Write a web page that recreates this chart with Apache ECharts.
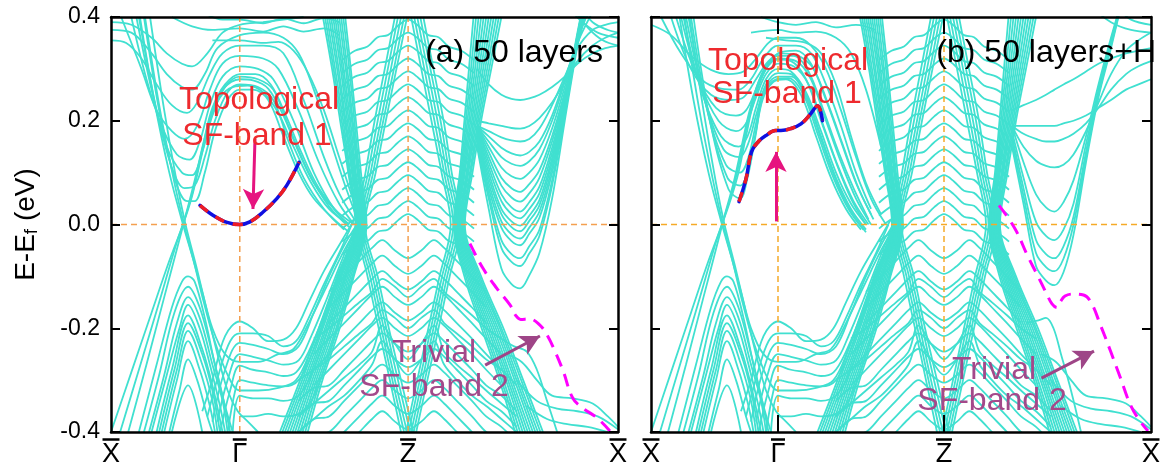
<!DOCTYPE html>
<html><head><meta charset="utf-8">
<script src="https://cdn.jsdelivr.net/npm/echarts@6/dist/echarts.min.js"></script>
<style>html,body{margin:0;padding:0;background:#fff}#c{width:1163px;height:468px}</style>
</head><body><div id="c"></div><script>
// ---------------- axis / label data ----------------
const kLabelValues = [0, 25.4, 58.6, 100];
const kLabelTexts = ['{bx| }\n{t|X}', '{bg| }\n{t|\u0393}', '{bz| }\n{t|Z}', '{bx| }\n{t|X}'];
const kSymLines = [25.4, 58.6];
const eRange = [-0.4, 0.4];

// ---------------- bands: left conduction (panel a) ----------------
const uA = [
 [[0,0.39],[4,0.385],[8,0.36],[11,0.33],[14,0.31],[16,0.305],[19,0.33],[22,0.37],[25.4,0.385],[30,0.39],[34,0.395],[38,0.4]],
 [[0,0.375],[4,0.37],[8,0.33],[11,0.29],[14,0.265],[16,0.26],[18.5,0.29],[21,0.34],[25.4,0.365],[30,0.37],[34,0.36],[37,0.33],[40,0.26],[43,0.17],[46,0.08],[49,0.0]],
 [[0,0.355],[3,0.35],[6,0.32],[9,0.27],[12,0.23],[15,0.215],[17,0.235],[19.5,0.29],[22,0.33],[25.4,0.345],[30,0.345],[34,0.33],[38,0.24],[42,0.13],[45,0.06],[48,0.01]],
 [[2,0.4],[6,0.3],[9,0.22],[12,0.18],[14.5,0.165],[17,0.19],[19.5,0.26],[22,0.31],[25.4,0.325],[30,0.32],[33,0.3],[37,0.22],[41,0.12],[45,0.04],[48,0.0]],
 [[4,0.4],[7,0.28],[10,0.19],[13,0.135],[15.5,0.125],[17.5,0.16],[19.5,0.23],[22,0.285],[25.4,0.305],[29,0.3],[32,0.28],[36,0.2],[40,0.1],[44,0.03],[47,0.0]],
 [[5,0.4],[8,0.26],[11,0.15],[14,0.1],[16,0.095],[18,0.14],[20,0.21],[22.5,0.265],[25.4,0.285],[29,0.28],[32,0.26],[35,0.19],[39,0.1],[43,0.035],[47,-0.005]],
 [[5.5,0.4],[9,0.22],[12,0.11],[14.5,0.07],[16.5,0.075],[18.5,0.13],[20.5,0.2],[23,0.255],[25.4,0.27],[29,0.265],[32,0.24],[35,0.16],[38,0.09],[42,0.03],[46,-0.01]],
 [[6.5,0.4],[9.5,0.22],[12.5,0.09],[15,0.045],[16.5,0.045],[18.5,0.1],[20.5,0.18],[23,0.24],[25.4,0.26],[28,0.26],[31,0.24],[34,0.17],[37,0.1],[40,0.05],[44,0.01],[47,-0.015]]
];
const cA = [
 [[0,-0.4],[4,-0.285],[8,-0.17],[11.5,-0.07],[14.2,0.0],[16,0.055],[17.8,0.13],[19.5,0.2],[21.5,0.245],[24,0.265],[27,0.268],[30,0.255],[33,0.215],[36,0.15],[39.5,0.08],[43,0.03],[47,0.0]],
 [[1.8,-0.4],[5.5,-0.28],[9.5,-0.15],[12.8,-0.04],[14.5,0.01],[16.3,0.07],[18,0.145],[19.8,0.215],[22,0.26],[25.4,0.28],[28,0.278],[31,0.262],[34,0.21],[37,0.14],[40,0.08],[44,0.03],[48,0.0]],
 [[3.4,-0.4],[7,-0.27],[10.5,-0.14],[13.2,-0.04],[14.8,0.02],[16.5,0.085],[18.3,0.16],[20,0.225],[22.5,0.27],[25.4,0.29],[28.5,0.29],[31.5,0.27],[34.5,0.21],[37.5,0.14],[41,0.07],[45,0.02]]
];
const tmA = [
 [[12,0.4],[16,0.382],[20,0.375],[25.4,0.378],[30,0.372],[34,0.382],[38,0.372],[42,0.378],[45,0.365]],
 [[18,0.41],[22,0.395],[25.4,0.395],[30,0.388],[34,0.397],[38,0.388],[42,0.398],[45,0.39]],
 [[20,0.355],[25.4,0.355],[30,0.35],[33,0.352],[36,0.335],[39,0.29],[42,0.22],[45,0.13],[48,0.04]]
];
// ---------------- bands: left conduction (panel b) ----------------
const uB = [
 [[0,0.385],[4,0.365],[8,0.325],[12,0.298],[15.5,0.29],[18.5,0.295],[21,0.32],[23.5,0.35],[25.4,0.36],[29,0.36],[32,0.345],[35,0.3],[38,0.22],[41,0.13],[44,0.05],[47,0.0]],
 [[2,0.4],[6,0.33],[10,0.28],[14,0.262],[17.5,0.26],[20,0.28],[22.5,0.32],[25.4,0.345],[29,0.345],[32,0.33],[35,0.27],[38,0.19],[41,0.1],[44,0.03]],
 [[4,0.4],[8,0.3],[12,0.25],[16,0.24],[18.5,0.245],[21,0.28],[23.5,0.315],[26,0.33],[29.5,0.325],[32.5,0.3],[35.5,0.23],[38.5,0.15],[41.5,0.07],[44.5,0.01]],
 [[5,0.4],[9,0.29],[13,0.225],[17,0.21],[19,0.22],[21,0.26],[23,0.3],[25.4,0.32],[29,0.315],[32,0.28],[35,0.2],[38,0.12],[41,0.05],[44,0.0]],
 [[6,0.4],[9.5,0.28],[13.5,0.2],[17,0.18],[19,0.195],[21,0.245],[23,0.29],[25.4,0.31],[28.5,0.305],[31.5,0.27],[34.5,0.19],[37.5,0.11],[40.5,0.045],[43.5,0.0]],
 [[6.5,0.4],[10,0.26],[14,0.17],[17.5,0.15],[19.3,0.17],[21,0.225],[23,0.28],[25.4,0.3],[28,0.295],[31,0.255],[34,0.18],[37,0.1],[40,0.04],[43,0.0]],
 [[7,0.4],[10.5,0.25],[14.5,0.145],[17.7,0.13],[19.4,0.155],[21,0.21],[23,0.27],[25.4,0.292],[28,0.29],[31,0.25],[34,0.17],[37,0.09],[40,0.03],[43,-0.01]],
 [[7.5,0.4],[11,0.23],[15,0.115],[17.8,0.1],[19.5,0.13],[21,0.195],[22.7,0.26],[25.4,0.285],[28,0.285],[31,0.245],[34,0.165],[37,0.085],[40,0.025],[43,-0.015]],
 [[8,0.4],[11.5,0.21],[15.3,0.09],[17.9,0.075],[19.5,0.11],[21,0.18],[22.5,0.25],[25,0.28],[27.5,0.282],[30.5,0.25],[33.5,0.17],[36.5,0.09],[39.5,0.03],[42.5,-0.01]],
 [[8.5,0.4],[12,0.19],[15.5,0.068],[17.8,0.05],[19.3,0.09],[20.8,0.165],[22.3,0.24],[24.5,0.275],[27,0.28],[30,0.25],[33,0.17],[36,0.09],[39,0.03],[42,-0.01]]
];
const cB = [
 [[0,-0.4],[4,-0.285],[8,-0.17],[11.5,-0.07],[14.2,0.0],[16,0.05],[17.5,0.1],[19,0.17],[20.5,0.235],[22.5,0.29],[25.4,0.33],[29,0.335],[32,0.31],[35,0.24],[38,0.16],[41,0.08],[44,0.02]],
 [[1.8,-0.4],[5.5,-0.28],[9.5,-0.15],[12.8,-0.04],[14.5,0.01],[16.3,0.065],[17.8,0.125],[19.3,0.195],[21,0.26],[23,0.305],[25.4,0.325],[28.5,0.325],[31.5,0.295],[34.5,0.22],[37.5,0.14],[40.5,0.07],[43.5,0.01]],
 [[3.4,-0.4],[7,-0.27],[10.5,-0.14],[13.2,-0.04],[14.8,0.02],[16.5,0.08],[18,0.145],[19.6,0.215],[21.5,0.275],[23.5,0.31],[25.4,0.318],[28,0.315],[31,0.28],[34,0.2],[37,0.12],[40,0.05],[43,0.0]]
];
const tmB = [
 [[22,0.4],[25.4,0.39],[29,0.385],[33,0.39],[37,0.38],[41,0.385],[45,0.375]],
 [[20,0.37],[25.4,0.375],[29,0.37],[33,0.372],[37,0.36],[40,0.33],[43,0.26],[46,0.15]],
 [[23,0.36],[27,0.355],[31,0.35],[34,0.33],[37,0.27],[40,0.17],[43,0.08],[46,0.02]]
];
// ---------------- bands shared by both panels ----------------
const dLines = [
 [[5.7,0.4],[8.5,0.24],[11.5,0.1],[14.2,0.0],[16,-0.06],[18,-0.13],[20,-0.2],[22.5,-0.25],[25.4,-0.265],[29,-0.265],[33,-0.25],[36,-0.24],[39,-0.19],[42.5,-0.12],[46,-0.05],[49,0.0]],
 [[6.7,0.4],[9.5,0.23],[12.3,0.09],[14.4,0.0],[16.3,-0.07],[18.3,-0.15],[20.3,-0.22],[23,-0.29],[25.4,-0.32],[29,-0.32],[33,-0.315],[36.5,-0.3],[39.5,-0.24],[43,-0.15],[46.5,-0.06],[49.5,0.0]],
 [[7.7,0.4],[10.5,0.22],[13,0.08],[14.7,0.0],[16.8,-0.08],[19,-0.17],[21,-0.25],[23,-0.32],[25,-0.36],[27,-0.38],[29,-0.4]]
];
const humps = [
 [[5.5,-0.4],[9,-0.27],[12,-0.16],[14,-0.11],[15.2,-0.1],[16.5,-0.11],[18.5,-0.18],[20.5,-0.27],[22.5,-0.35],[24,-0.4]],
 [[6.5,-0.4],[9.5,-0.29],[12.5,-0.17],[15.2,-0.12],[17.5,-0.16],[20,-0.25],[22,-0.33],[23.5,-0.4]],
 [[7.5,-0.4],[10.5,-0.29],[13,-0.19],[15.2,-0.14],[17.5,-0.18],[20,-0.27],[22,-0.34],[23,-0.4]],
 [[8,-0.4],[11,-0.29],[13.5,-0.2],[15.2,-0.155],[17.5,-0.2],[19.5,-0.27],[21.5,-0.35],[22.5,-0.4]],
 [[9,-0.4],[12,-0.28],[15.2,-0.175],[18,-0.24],[20,-0.31],[22,-0.4]],
 [[9.5,-0.4],[12.5,-0.28],[15.2,-0.19],[18,-0.25],[20,-0.32],[21.5,-0.4]],
 [[10,-0.4],[13,-0.28],[15.2,-0.205],[18,-0.27],[20,-0.34],[21,-0.4]],
 [[10.5,-0.4],[13,-0.3],[15.2,-0.225],[17.5,-0.28],[19.5,-0.35],[20.5,-0.4]],
 [[11.5,-0.4],[13.5,-0.32],[15.2,-0.26],[17,-0.3],[19,-0.37],[20,-0.4]],
 [[12,-0.4],[15.2,-0.31],[18,-0.4]]
];
const gammaVal = [
 [[18,-0.36],[20,-0.3],[22.5,-0.215],[25.4,-0.187],[28,-0.2],[31,-0.225],[34,-0.222],[36.5,-0.2],[39,-0.15],[42,-0.09],[45,-0.04],[48,0.01]],
 [[19,-0.37],[21.5,-0.28],[23.5,-0.225],[25.4,-0.21],[28,-0.21],[31,-0.215],[34,-0.235],[36.5,-0.225],[39,-0.18],[42,-0.115],[45,-0.055],[47.5,0.0]],
 [[20,-0.38],[22.5,-0.28],[25.4,-0.228],[28,-0.232],[31,-0.24],[34,-0.25],[37,-0.235],[40,-0.17],[43,-0.1],[46,-0.04],[48.5,0.0]],
 [[21,-0.38],[23,-0.3],[25.4,-0.25],[28,-0.255],[31,-0.262],[34,-0.27],[37,-0.262],[39.5,-0.215],[42.5,-0.145],[45.5,-0.07],[48.5,0.0]],
 [[21.5,-0.4],[23.5,-0.32],[25.4,-0.272],[28,-0.28],[31,-0.285],[34,-0.292],[36.5,-0.285],[39,-0.245],[42,-0.175],[45,-0.095],[48,-0.015]],
 [[23,-0.4],[24.5,-0.32],[25.4,-0.3],[28,-0.305],[31,-0.31],[34,-0.312],[37,-0.3],[40,-0.24],[43,-0.16],[46,-0.08],[49,0.0]],
 [[24,-0.4],[25.4,-0.33],[28,-0.335],[31,-0.335],[34,-0.34],[37,-0.33],[39.5,-0.29],[42.5,-0.21],[45.5,-0.12],[48.5,-0.03]],
 [[25.4,-0.37],[28,-0.37],[31,-0.365],[34,-0.37],[37,-0.365],[39.5,-0.34],[42,-0.28],[45,-0.19],[48,-0.09],[50.5,0.0]]
];
// bundles around Z: k position of each line at these energies
const bundleE = [0.4, 0.3, 0.2, 0.1, 0.0, -0.1, -0.2, -0.3, -0.4];
const outerLeftK = [
 [41.8,43.6,45.2,46.8,48.2,44.6,41,37.3,33.3],
 [42.2,43.9,45.5,47,48.4,44.9,41.4,37.7,33.8],
 [42.6,44.2,45.8,47.2,48.6,45.2,41.8,38.1,34.3],
 [43,44.6,46.1,47.5,48.8,45.5,42.2,38.5,34.8],
 [43.4,44.9,46.3,47.7,49,45.8,42.5,38.9,35.3],
 [43.8,45.3,46.6,47.9,49.2,46.1,42.9,39.3,35.8],
 [44.2,45.6,46.9,48.1,49.4,46.4,43.3,39.7,36.3],
 [44.6,45.9,47.2,48.3,49.6,46.7,43.6,40.1,36.8],
 [45,46.3,47.5,48.6,49.8,47,44,40.5,37.3],
 [45.4,46.6,47.7,48.8,50,47.3,44.4,40.9,37.8],
 [45.8,47,48,49,50.2,47.6,44.7,41.3,38.3],
 [46.2,47.3,48.3,49.3,50.4,47.9,45.1,41.7,38.8]
];
const innerLeftK = [
 [56,54,52,50.2,48.5,50.6,52.8,55,57.2],
 [56.6,54.6,52.6,50.7,48.9,51.1,53.3,55.5,57.8],
 [57.2,55.2,53.2,51.2,49.3,51.6,53.8,56,58.4],
 [57.8,55.8,53.7,51.7,49.7,52.1,54.3,56.6,59],
 [58.4,56.3,54.2,52.2,50.1,52.6,54.8,57.2,59.6]
];
const outerRightK = [
 [71.5,70.6,69.7,68.8,67.6,69.7,73.1,76.6,79.7],
 [72,71,70,69,67.8,70,73.5,77,80.2],
 [72.5,71.4,70.3,69.2,68,70.3,73.9,77.4,80.7],
 [73,71.8,70.6,69.4,68.2,70.6,74.3,77.9,81.2],
 [73.5,72.2,70.9,69.6,68.4,70.9,74.7,78.3,81.7],
 [74,72.6,71.2,69.8,68.6,71.2,75.1,78.7,82.2],
 [74.5,73,71.5,70.1,68.8,71.5,75.5,79.1,82.7],
 [75,73.4,71.8,70.3,69,71.8,75.9,79.6,83.2],
 [75.5,73.8,72.1,70.5,69.2,72.1,76.3,80,83.7],
 [76,74.2,72.4,70.8,69.4,72.4,76.7,80.4,84.2],
 [76.5,74.6,72.7,71,69.6,72.7,77,80.9,84.7],
 [77,75,73,71.3,69.8,73,77.4,81.3,85.2]
];
const innerRightK = [
 [59.2,61.2,63.2,65.2,67,64.8,62.6,60.4,58.2],
 [59.8,61.8,63.8,65.7,67.5,65.3,63.1,60.9,58.7],
 [60.4,62.4,64.4,66.2,68,65.8,63.6,61.4,59.2],
 [61,63,65,66.7,68.5,66.3,64.1,61.9,59.7],
 [61.6,63.6,65.6,67.2,69,66.8,64.6,62.4,60.2]
];
// wavy bands around Z (upper), on a shared k grid
const zuK = [45.6,48.1,50.6,52.6,54.6,56.6,58.6,60.6,62.6,64.6,66.6,69.1,71.6];
const zuE = [
 [0.317,0.335,0.343,0.361,0.365,0.383,0.395,0.383,0.365,0.361,0.343,0.335,0.317],
 [0.292,0.31,0.318,0.336,0.34,0.358,0.37,0.358,0.34,0.336,0.318,0.31,0.292],
 [0.267,0.285,0.293,0.311,0.315,0.333,0.345,0.333,0.315,0.311,0.293,0.285,0.267],
 [0.242,0.26,0.268,0.286,0.29,0.308,0.32,0.308,0.29,0.286,0.268,0.26,0.242],
 [0.217,0.235,0.243,0.261,0.265,0.283,0.295,0.283,0.265,0.261,0.243,0.235,0.217],
 [0.192,0.21,0.218,0.236,0.24,0.258,0.27,0.258,0.24,0.236,0.218,0.21,0.192],
 [0.167,0.185,0.193,0.211,0.215,0.233,0.245,0.233,0.215,0.211,0.193,0.185,0.167],
 [0.142,0.16,0.168,0.186,0.19,0.208,0.22,0.208,0.19,0.186,0.168,0.16,0.142],
 [0.117,0.135,0.143,0.161,0.165,0.183,0.195,0.183,0.165,0.161,0.143,0.135,0.117],
 [0.092,0.11,0.118,0.136,0.14,0.158,0.17,0.158,0.14,0.136,0.118,0.11,0.092],
 [0.067,0.085,0.093,0.111,0.115,0.133,0.145,0.133,0.115,0.111,0.093,0.085,0.067],
 [0.042,0.06,0.068,0.086,0.09,0.108,0.12,0.108,0.09,0.086,0.068,0.06,0.042],
 [0.017,0.035,0.043,0.061,0.065,0.083,0.095,0.083,0.065,0.061,0.043,0.035,0.017],
 [-0.008,0.01,0.018,0.036,0.04,0.058,0.07,0.058,0.04,0.036,0.018,0.01,-0.008],
 [-0.033,-0.015,-0.007,0.011,0.015,0.033,0.045,0.033,0.015,0.011,-0.007,-0.015,-0.033],
 [-0.058,-0.04,-0.032,-0.014,-0.01,0.008,0.02,0.008,-0.01,-0.014,-0.032,-0.04,-0.058]
];
// wavy bands around Z (lower); null = band not present at that k
const zlK = [37,40,43,46,49,51.5,53.5,56,58.6,61.2,63.7,65.7,68.2,71.2,74,77,80];
const zlE = [
 [null,null,-0.13,-0.1,-0.07,-0.045,-0.03,-0.05,-0.065,-0.05,-0.03,-0.045,-0.07,-0.1,-0.13,null,null],
 [null,null,-0.16,-0.13,-0.1,-0.075,-0.06,-0.08,-0.095,-0.08,-0.06,-0.075,-0.1,-0.13,-0.16,null,null],
 [null,null,-0.19,-0.16,-0.13,-0.105,-0.09,-0.11,-0.125,-0.11,-0.09,-0.105,-0.13,-0.16,-0.19,null,null],
 [null,-0.25,-0.22,-0.19,-0.16,-0.135,-0.12,-0.14,-0.155,-0.14,-0.12,-0.135,-0.16,-0.19,-0.22,-0.25,null],
 [null,-0.28,-0.25,-0.22,-0.19,-0.165,-0.15,-0.17,-0.185,-0.17,-0.15,-0.165,-0.19,-0.22,-0.25,-0.28,null],
 [null,-0.31,-0.28,-0.25,-0.22,-0.195,-0.18,-0.2,-0.215,-0.2,-0.18,-0.195,-0.22,-0.25,-0.28,-0.31,null],
 [-0.34,-0.315,-0.31,-0.28,-0.25,-0.225,-0.21,-0.23,-0.245,-0.23,-0.21,-0.225,-0.25,-0.28,-0.31,-0.33,-0.36],
 [-0.37,-0.345,-0.34,-0.31,-0.28,-0.255,-0.24,-0.26,-0.275,-0.26,-0.24,-0.255,-0.28,-0.31,-0.34,-0.36,-0.39],
 [-0.4,-0.375,-0.37,-0.34,-0.31,-0.285,-0.27,-0.29,-0.305,-0.29,-0.27,-0.285,-0.31,-0.34,-0.37,-0.39,-0.42],
 [-0.43,-0.405,-0.4,-0.37,-0.34,-0.315,-0.3,-0.32,-0.335,-0.32,-0.3,-0.315,-0.34,-0.37,-0.4,-0.42,-0.45],
 [null,null,-0.43,-0.4,-0.37,-0.345,-0.33,-0.35,-0.365,-0.35,-0.33,-0.345,-0.37,-0.4,-0.43,null,null],
 [null,null,-0.46,-0.43,-0.4,-0.375,-0.36,-0.38,-0.395,-0.38,-0.36,-0.375,-0.4,-0.43,-0.46,null,null],
 [null,-0.22,-0.2,-0.175,-0.15,-0.13,-0.105,-0.12,-0.14,-0.12,-0.105,-0.13,-0.15,-0.175,-0.2,-0.22,null],
 [-0.3,-0.28,-0.26,-0.235,-0.21,-0.19,-0.165,-0.18,-0.2,-0.18,-0.165,-0.19,-0.21,-0.235,-0.26,-0.28,-0.31],
 [-0.37,-0.345,-0.32,-0.295,-0.27,-0.245,-0.195,-0.23,-0.26,-0.23,-0.195,-0.245,-0.27,-0.295,-0.32,-0.345,-0.37],
 [-0.4,-0.375,-0.35,-0.33,-0.3,-0.27,-0.225,-0.26,-0.29,-0.26,-0.225,-0.27,-0.3,-0.33,-0.35,-0.375,-0.4]
];
// right V (conduction) on a shared k grid
const rK = [72.2,74.5,77,79,80.7,82.5,84.5,87,89.5,92,95,97.5,100];
const rvA = [
 [0.3,0.27,0.25,0.242,0.24,0.243,0.25,0.265,0.285,0.31,0.33,0.34,0.345],
 [0.2,0.195,0.19,0.186,0.185,0.19,0.205,0.235,0.275,0.315,0.345,0.36,0.37],
 [0.19,0.18,0.168,0.162,0.16,0.165,0.185,0.23,0.285,0.34,0.375,0.385,0.39],
 [0.19,0.17,0.148,0.137,0.133,0.14,0.16,0.21,0.28,0.35,0.41,0.45,0.48],
 [0.19,0.16,0.13,0.117,0.113,0.122,0.145,0.2,0.275,0.355,0.43,0.48,0.52],
 [0.19,0.15,0.11,0.093,0.088,0.1,0.125,0.185,0.265,0.35,0.45,0.5,0.55],
 [0.19,0.14,0.09,0.07,0.063,0.078,0.105,0.17,0.255,0.345,0.46,0.52,0.6],
 [0.19,0.13,0.075,0.052,0.044,0.06,0.09,0.16,0.25,0.35,0.47,0.55,0.6],
 [0.19,0.12,0.058,0.033,0.025,0.043,0.073,0.148,0.245,0.355,0.48,0.55,0.6],
 [0.185,0.11,0.045,0.02,0.012,0.03,0.06,0.138,0.24,0.36,0.49,0.55,0.6],
 [0.18,0.1,0.03,0.006,-0.002,0.017,0.047,0.128,0.235,0.365,0.5,0.55,0.6],
 [0.175,0.09,0.02,-0.005,-0.013,0.007,0.037,0.12,0.23,0.37,0.5,0.55,0.6],
 [0.17,0.08,0.006,-0.019,-0.027,-0.006,0.025,0.11,0.225,0.365,0.5,0.55,0.6],
 [0.165,0.07,-0.006,-0.032,-0.04,-0.018,0.013,0.1,0.22,0.36,0.5,0.55,0.6],
 [0.16,0.06,-0.03,-0.057,-0.065,-0.042,-0.01,0.085,0.215,0.355,0.5,0.55,0.6],
 [0.155,0.05,-0.045,-0.072,-0.08,-0.056,-0.022,0.075,0.21,0.35,0.5,0.55,0.6],
 [0.15,0.03,-0.085,-0.115,-0.123,-0.098,-0.055,0.05,0.2,0.345,0.5,0.55,0.6]
];
const rvB = [
 [0.22,0.23,0.24,0.25,0.26,0.27,0.28,0.295,0.31,0.32,0.33,0.335,0.34],
 [0.19,0.19,0.19,0.19,0.19,0.195,0.2,0.21,0.225,0.24,0.26,0.27,0.28],
 [0.19,0.175,0.165,0.16,0.16,0.165,0.175,0.195,0.225,0.26,0.29,0.305,0.315],
 [0.19,0.15,0.123,0.113,0.11,0.115,0.135,0.18,0.235,0.29,0.335,0.355,0.37],
 [0.19,0.12,0.058,0.033,0.025,0.043,0.085,0.17,0.27,0.36,0.46,0.55,0.6],
 [0.18,0.09,0.005,-0.022,-0.03,-0.01,0.04,0.155,0.26,0.355,0.46,0.55,0.6],
 [0.17,0.07,-0.03,-0.057,-0.065,-0.042,0.015,0.14,0.255,0.35,0.46,0.55,0.6],
 [0.16,0.055,-0.055,-0.082,-0.09,-0.066,0,0.13,0.25,0.345,0.46,0.55,0.6],
 [0.15,0.04,-0.08,-0.108,-0.117,-0.092,-0.02,0.12,0.245,0.34,0.46,0.55,0.6]
];
const rtA = [
 [[90,0.42],[93,0.39],[96,0.37],[100,0.36]],
 [[91,0.42],[94,0.38],[97,0.355],[100,0.345]],
 [[92.5,0.42],[95,0.39],[98,0.375],[100,0.37]]
];
const rtB = [
 [[88,0.42],[92,0.39],[96,0.375],[100,0.37]],
 [[93,0.42],[96,0.395],[100,0.385]]
];
const bottomRight = [
 [[78,-0.25],[81,-0.265],[84,-0.3],[87,-0.33],[91,-0.335],[95,-0.345],[98,-0.37],[100,-0.39]],
 [[80,-0.3],[84,-0.34],[88,-0.355],[92,-0.36],[96,-0.37],[100,-0.395]],
 [[82,-0.35],[86,-0.375],[90,-0.385],[94,-0.39],[98,-0.4]]
];
const humpRA = [[[77,-0.22],[79.5,-0.235],[82,-0.245],[84,-0.28],[86,-0.34],[88,-0.4]]];
const humpRB = [[[75,-0.19],[77.5,-0.185],[79,-0.18],[80.5,-0.2],[82,-0.25],[84,-0.32],[86,-0.4]]];

// ---------------- highlighted surface bands ----------------
const topoA = [[17.55,0.037],[20.1,0.018],[22.9,0.004],[25.4,0.0],[27.4,0.005],[30,0.024],[32.7,0.05],[34.7,0.076],[37.1,0.12]];
const topoB = [[17.6,0.044],[19,0.088],[20.1,0.14],[21.5,0.16],[22.9,0.171],[24.9,0.181],[26,0.181],[28,0.185],[30,0.194],[31.9,0.213],[33.3,0.229],[34.3,0.2]];
const trivA = [[70.8,-0.037],[73.4,-0.085],[76.1,-0.123],[78.7,-0.155],[79.8,-0.175],[80.8,-0.183],[82.5,-0.182],[84.6,-0.194],[86,-0.213],[87.6,-0.245],[89.2,-0.283],[91.1,-0.335],[93.1,-0.354],[95.9,-0.373],[98.4,-0.398]];
const trivB = [[69.6,0.037],[72.8,-0.008],[75.3,-0.06],[77.3,-0.098],[79.1,-0.133],[80.2,-0.153],[81.2,-0.16],[81.8,-0.15],[82.8,-0.138],[84.5,-0.134],[86.5,-0.136],[88,-0.15],[89.9,-0.194],[91.9,-0.244],[93.9,-0.296],[95.9,-0.348],[97.8,-0.379],[99.4,-0.398]];
const arrowTopoA = [[28.4,0.165],[28.0,0.03]];
const arrowTopoB = [[25.0,0.006],[25.0,0.14]];
const arrowTrivA = [[73.8,-0.271],[84.6,-0.215]];
const arrowTrivB = [[78.1,-0.296],[88.6,-0.244]];

// ---------------- styles ----------------
const TURQ = '#40E0D0';
const FONT = '"Liberation Sans", Arial, sans-serif';
const ORANGE_A = '#f4a050', ORANGE_B = '#f5aa28';

function onGrid(kGrid, rows){ return rows.map(r => r.map((e,i) => [kGrid[i], e])); }
function onEGrid(eGrid, rows){ return rows.map(r => r.map((k,i) => [k, eGrid[i]])); }
function bandSeries(list, xi, yi){
  return list.map(b => ({type:'line', xAxisIndex:xi, yAxisIndex:yi, data:b, smooth:0.35, symbol:'none',
    connectNulls:false, silent:true, animation:false, z:2, lineStyle:{color:TURQ, width:1.8}}));
}
const shared = [].concat(dLines, humps, gammaVal,
  onEGrid(bundleE, outerLeftK), onEGrid(bundleE, innerLeftK), onEGrid(bundleE, outerRightK), onEGrid(bundleE, innerRightK),
  onGrid(zuK, zuE), onGrid(zlK, zlE), bottomRight);
const bandsA = [].concat(uA, cA, tmA, shared, onGrid(rK, rvA), rtA, humpRA);
const bandsB = [].concat(uB, cB, tmB, shared, onGrid(rK, rvB), rtB, humpRB);

function refLines(xi, yi, color){
  const st = {color, width:1.5, type:[6,4]};
  const out = [{type:'line', xAxisIndex:xi, yAxisIndex:yi, data:[[0,0],[100,0]], symbol:'none', silent:true, animation:false, z:3, lineStyle:st}];
  kSymLines.forEach(k => out.push({type:'line', xAxisIndex:xi, yAxisIndex:yi, data:[[k,eRange[0]],[k,eRange[1]]], symbol:'none', silent:true, animation:false, z:3, lineStyle:st}));
  return out;
}
function topoSeries(data, xi, yi){
  return [
    {type:'line', xAxisIndex:xi, yAxisIndex:yi, data, smooth:0.4, symbol:'none', silent:true, animation:false, z:4, lineStyle:{color:'#1010e0', width:3.5, cap:'round'}},
    {type:'line', xAxisIndex:xi, yAxisIndex:yi, data, smooth:0.4, symbol:'none', silent:true, animation:false, z:5, lineStyle:{color:'#ee1c24', width:3.5, type:[10,9]}}
  ];
}
function trivSeries(data, xi, yi){
  return {type:'line', xAxisIndex:xi, yAxisIndex:yi, data, smooth:0.4, symbol:'none', silent:true, animation:false, z:4, lineStyle:{color:'#ff00ff', width:3, type:[13,8]}};
}
function arrowSeries(pts, xi, yi, color){
  return {type:'line', xAxisIndex:xi, yAxisIndex:yi, data:[], silent:true, animation:false, z:6,
    markLine:{silent:true, animation:false, symbol:['none','arrow'], symbolSize:[16,20], label:{show:false},
      emphasis:{disabled:true}, lineStyle:{color, width:3, type:'solid'},
      data:[[{coord:pts[0]},{coord:pts[1]}]]}};
}

const axLine = {show:true, onZero:false, lineStyle:{color:'#000', width:2.5}};
const barStyle = (w) => ({width:w, height:2.5, lineHeight:3, fontSize:1, backgroundColor:'#000'});
function xAx(grid, pos, labels, ticks){
  return {type:'value', gridIndex:grid, position:pos, min:0, max:100, z:10,
    axisLine:axLine, splitLine:{show:false},
    axisTick: ticks ? {show:true, inside:true, length:17, lineStyle:{color:'#000', width:2}, customValues:kSymLines} : {show:false},
    axisLabel: labels ? {show:true, customValues:kLabelValues, margin:6, color:'#000', align:'center',
      rich:{t:{fontSize:27, lineHeight:27, fontFamily:FONT, color:'#000', align:'center'},
            bx:barStyle(17), bg:barStyle(14), bz:barStyle(16)},
      formatter:(v)=>{ let bi=0; kLabelValues.forEach((kv,i)=>{ if(Math.abs(kv-v)<Math.abs(kLabelValues[bi]-v)) bi=i; }); return kLabelTexts[bi]; }} : {show:false}};
}
function yAx(grid, pos, labels, name){
  const o = {type:'value', gridIndex:grid, position:pos, min:eRange[0], max:eRange[1], interval:0.2, z:10,
    axisLine:axLine, splitLine:{show:false},
    axisTick:{show:true, inside:true, length:9, lineStyle:{color:'#000', width:2}},
    axisLabel: labels ? {show:true, margin:11, color:'#000', fontSize:23, fontFamily:FONT,
      formatter:(v)=> Math.abs(v)<1e-9 ? '0.0' : v.toFixed(1)} : {show:false}};
  if (name) {
    o.name = '{n|E-E}{s|f}{n| (eV)}';
    o.nameLocation = 'middle'; o.nameRotate = 90; o.nameGap = 68;
    o.nameTextStyle = {rich:{n:{fontSize:28, fontFamily:FONT, color:'#000', lineHeight:34},
      s:{fontSize:19, fontFamily:FONT, color:'#000', lineHeight:34, padding:[12,0,0,0]}}};
  }
  return o;
}

const chart = echarts.init(document.getElementById('c'), null, {renderer:'canvas'});
const series = [].concat(
  bandSeries(bandsA, 0, 0), bandSeries(bandsB, 2, 2),
  refLines(0, 0, ORANGE_A), refLines(2, 2, ORANGE_B),
  topoSeries(topoA, 0, 0), topoSeries(topoB, 2, 2),
  [trivSeries(trivA, 0, 0), trivSeries(trivB, 2, 2),
   arrowSeries(arrowTopoA, 0, 0, '#e6147f'), arrowSeries(arrowTopoB, 2, 2, '#e6147f'),
   arrowSeries(arrowTrivA, 0, 0, '#9e4587'), arrowSeries(arrowTrivB, 2, 2, '#9e4587')]
);
function txt(s, x, y, color, align){
  return {type:'text', x, y, z:100, silent:true,
    style:{text:s, font:'32px ' + FONT, fill:color, align:align||'center', verticalAlign:'middle'}};
}
chart.setOption({
  animation:false,
  backgroundColor:'#fff',
  grid:[{left:111, top:17, width:507, height:417}, {left:651, top:17, width:507, height:417}],
  xAxis:[xAx(0,'bottom',true,false), xAx(0,'top',false,false), xAx(1,'bottom',true,true), xAx(1,'top',false,true)],
  yAxis:[yAx(0,'left',true,true), yAx(0,'right',false,false), yAx(1,'left',false,false), yAx(1,'right',false,false)],
  series,
  graphic:[
    txt('(a) 50 layers', 603, 53, '#000', 'right'),
    txt('Topological', 259, 100, '#ee2a2e'),
    txt('SF-band 1', 257, 136, '#ee2a2e'),
    txt('Trivial', 434, 353, '#a3498a'),
    txt('SF-band 2', 434, 387, '#a3498a'),
    txt('(b) 50 layers+H', 1156, 53, '#000', 'right'),
    txt('Topological', 788, 61, '#ee2a2e'),
    txt('SF-band 1', 787, 94, '#ee2a2e'),
    txt('Trivial', 994, 370, '#a3498a'),
    txt('SF-band 2', 992, 401, '#a3498a')
  ]
});
</script></body></html>
